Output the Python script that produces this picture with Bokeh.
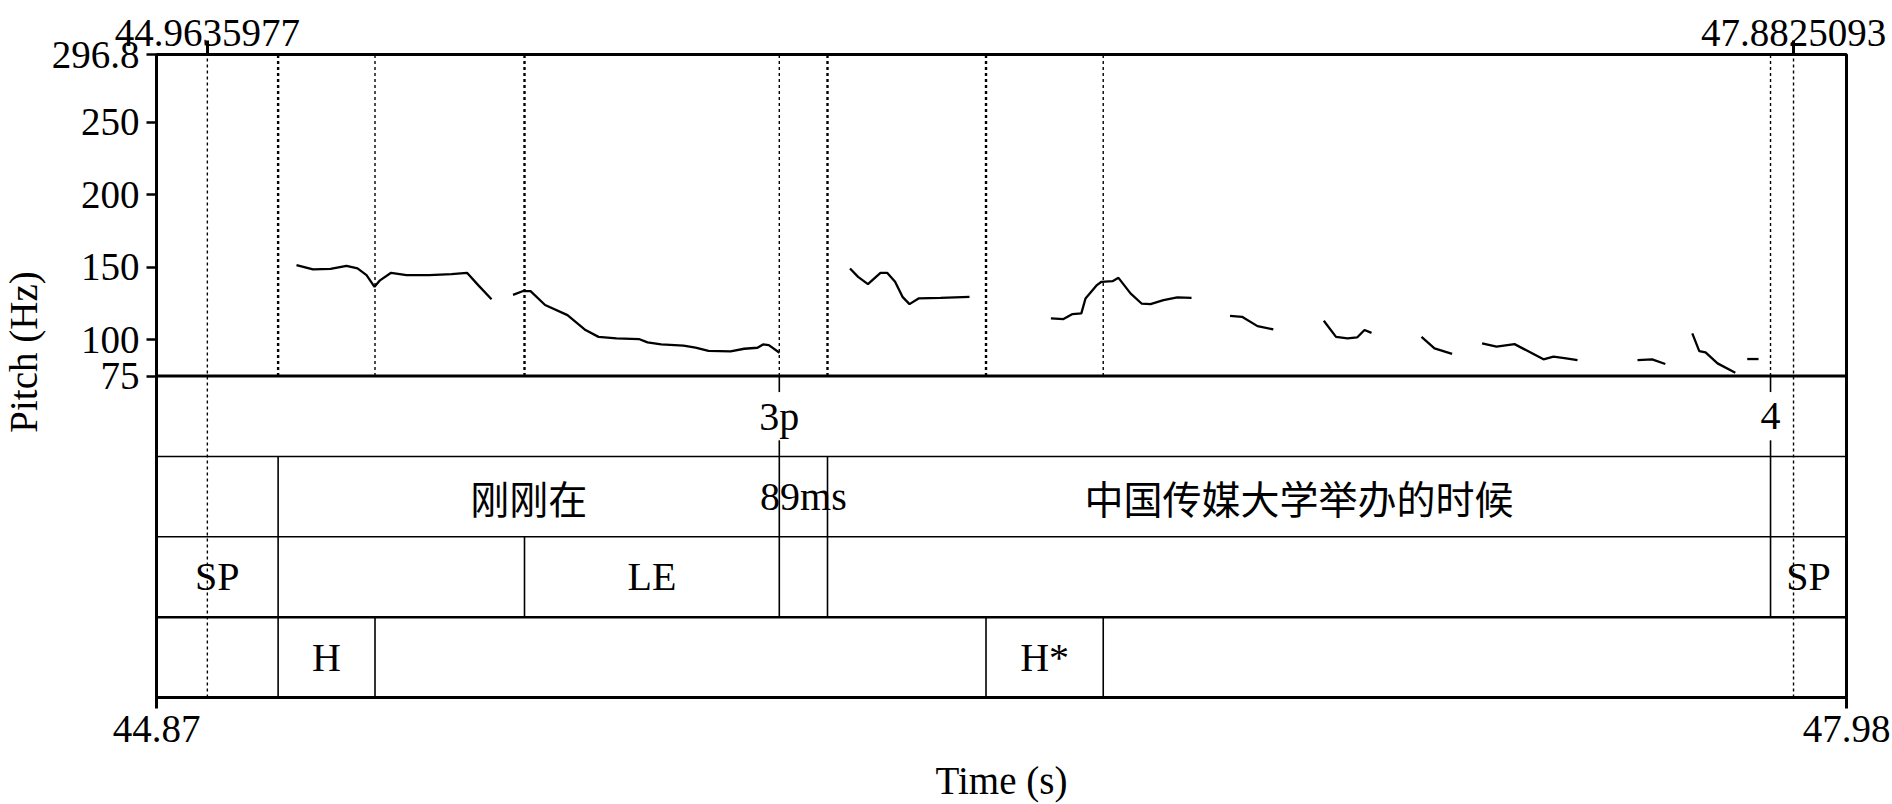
import math
from bokeh.plotting import figure
from bokeh.layouts import row
from bokeh.models import Range1d, LinearAxis, FixedTicker
from bokeh.core.properties import value
from bokeh.embed import file_html
from bokeh.resources import INLINE

# ---------------- data ----------------
t_start, t_end = 44.87, 47.98
f_min, f_max = 75.0, 296.8
y_ticks = [75.0, 100.0, 150.0, 200.0, 250.0, 296.8]
y_tick_labels = ["75", "100", "150", "200", "250", "296.8"]
x_ticks = [44.87, 47.98]
x_tick_labels = ["44.87", "47.98"]
marks = [44.9635977, 47.8825093]
mark_labels = ["44.9635977", "47.8825093"]
y_title = "Pitch (Hz)"
x_title = "Time (s)"

# pitch contour (voiced stretches)
seg_t = [
    [45.1276, 45.1580, 45.1902, 45.2197, 45.2399, 45.2565, 45.2712, 45.2813, 45.3017, 45.3301, 45.3717, 45.4129, 45.4414, 45.4620, 45.4865],
    [45.5261, 45.5435, 45.5583, 45.5851, 45.6263, 45.6595, 45.6834, 45.7165, 45.7577, 45.7736, 45.7988, 45.8398, 45.8619, 45.8858, 45.9263, 45.9516, 45.9760, 45.9861, 45.9968, 46.0165],
    [46.1462, 46.1611, 46.1792, 46.2023, 46.2145, 46.2292, 46.2428, 46.2557, 46.2723, 46.3128, 46.3661],
    [46.5159, 46.5391, 46.5557, 46.5719, 46.5796, 46.6006, 46.6090, 46.6293, 46.6403, 46.6624, 46.6827, 46.6992, 46.7231, 46.7485, 46.7747],
    [46.8455, 46.8676, 46.8961, 46.9252],
    [47.0181, 47.0406, 47.0618, 47.0794, 47.0930, 47.1059],
    [47.1979, 47.2218, 47.2542],
    [47.3094, 47.3360, 47.3691, 47.3961, 47.4224, 47.4408, 47.4640, 47.4850],
    [47.5954, 47.6223, 47.6466],
    [47.6962, 47.7091, 47.7206, 47.7427, 47.7754],
    [47.7973, 47.8181],
]
seg_hz = [
    [151.5, 148.5, 148.9, 151.0, 149.2, 144.6, 136.5, 141.0, 146.2, 144.6, 144.6, 145.3, 146.2, 137.7, 128.0],
    [131.0, 133.5, 133.5, 124.0, 117.0, 106.7, 102.0, 101.0, 100.5, 98.2, 96.8, 95.9, 94.5, 92.4, 92.0, 93.8, 94.5, 96.8, 96.3, 91.0],
    [149.2, 143.4, 138.4, 146.2, 146.2, 140.0, 129.6, 124.6, 128.5, 128.9, 129.6],
    [114.7, 114.3, 117.7, 118.2, 128.5, 137.7, 140.0, 140.4, 142.7, 132.0, 125.0, 124.6, 127.3, 129.2, 128.9],
    [116.5, 115.8, 109.4, 107.1],
    [113.1, 102.0, 101.0, 101.6, 106.7, 104.8],
    [102.0, 94.0, 90.2],
    [97.5, 95.2, 97.0, 91.7, 86.5, 88.3, 87.2, 86.0],
    [86.0, 86.5, 83.3],
    [104.4, 92.2, 91.3, 83.7, 77.3],
    [86.7, 86.7],
]

# TextGrid tiers
tier1_times = [46.0161, 47.8402]
tier1_labels = ["3p", "4"]
tier2_bounds = [44.87, 45.0938, 46.0161, 46.1048, 47.8402, 47.98]
tier2_labels = ["", "刚刚在", "89ms", "中国传媒大学举办的时候", ""]
tier3_bounds = [44.87, 45.0938, 45.5472, 46.0161, 46.1048, 47.8402, 47.98]
tier3_labels = ["SP", "", "LE", "", "", "SP"]
tier4_bounds = [44.87, 45.0938, 45.2721, 46.3965, 46.6122, 47.98]
tier4_labels = ["", "H", "", "H*", ""]

# ---------------- styles ----------------
SERIF = "Liberation Serif"
CJK = "Noto Sans CJK SC"
FS = "40px"
AXFS = "39px"
heavy_dots = [45.0938, 45.5472, 46.1048, 46.3965]
W, H = 1892, 804
TITLE_W = 46

span = f_max - f_min

# narrow strip holding the rotated y title
ft = figure(width=TITLE_W, height=H, output_backend="svg", toolbar_location=None,
            x_range=Range1d(0, TITLE_W), y_range=Range1d(0, H),
            x_axis_type=None, y_axis_type=None, min_border=0)
ft.outline_line_color = None
ft.xgrid.visible = False
ft.ygrid.visible = False
ft.text(x=[TITLE_W / 2], y=[H - 372], text=[y_title], angle=math.pi / 2,
        text_font=value(SERIF), text_font_size="39px", text_align="center",
        text_baseline="middle", text_color="black")

p = figure(width=W - TITLE_W, height=H, output_backend="svg", toolbar_location=None,
           x_range=Range1d(t_start, t_end), y_range=Range1d(f_min - span, f_max),
           min_border_left=156 - TITLE_W, min_border_right=46, min_border_top=54,
           min_border_bottom=106)
p.extra_y_ranges = {"tier": Range1d(-4, 4)}
p.xgrid.visible = False
p.ygrid.visible = False
p.outline_line_color = "black"
p.outline_line_width = 3
p.background_fill_color = "white"
p.border_fill_color = "white"

# left axis
ya = p.yaxis[0]
ya.ticker = FixedTicker(ticks=y_ticks)
ya.major_label_overrides = dict(zip(y_ticks, y_tick_labels))
ya.axis_line_width = 3
ya.major_tick_out = 10
ya.major_tick_in = 0
ya.major_tick_line_width = 2.5
ya.minor_tick_line_color = None
ya.major_label_text_font = SERIF
ya.major_label_text_font_size = AXFS
ya.major_label_text_color = "black"
ya.major_label_standoff = 7

# bottom axis
xa = p.xaxis[0]
xa.ticker = FixedTicker(ticks=x_ticks)
xa.major_label_overrides = dict(zip(x_ticks, x_tick_labels))
xa.axis_line_width = 3
xa.major_tick_out = 11
xa.major_tick_in = 0
xa.major_tick_line_width = 3
xa.minor_tick_line_color = None
xa.major_label_text_font = SERIF
xa.major_label_text_font_size = AXFS
xa.major_label_text_color = "black"
xa.major_label_standoff = 7
xa.axis_label = x_title
xa.axis_label_text_font = SERIF
xa.axis_label_text_font_size = AXFS
xa.axis_label_text_font_style = "normal"
xa.axis_label_text_color = "black"
xa.axis_label_standoff = 14

# top marks
ta = LinearAxis(ticker=FixedTicker(ticks=marks), axis_line_color=None,
                major_tick_out=14, major_tick_in=0, major_tick_line_width=3,
                minor_tick_line_color=None, major_label_text_font=SERIF,
                major_label_text_font_size=AXFS, major_label_text_color="black",
                major_label_standoff=-5,
                major_label_overrides=dict(zip(marks, mark_labels)))
p.add_layout(ta, "above")

# dotted boundary lines in pitch area
bounds = sorted(set(tier2_bounds[1:-1] + tier3_bounds[1:-1] + tier4_bounds[1:-1] + tier1_times))
for b in bounds:
    w = 2.4 if b in heavy_dots else 1.4
    p.segment(x0=[b], x1=[b], y0=[f_min], y1=[f_max], line_color="black",
              line_width=w, line_dash="3 3")
# mark dotted lines through whole frame
p.segment(x0=marks, x1=marks, y0=[f_min - span] * 2, y1=[f_max] * 2, line_color="black",
          line_width=1.4, line_dash="3 3")

# pitch contour
p.multi_line(xs=seg_t, ys=seg_hz, line_color="black", line_width=2.3)

# tier separators
sep_y = [0, -1, -2, -3]
sep_w = [3, 1.5, 1.5, 2.5]
for y, w in zip(sep_y, sep_w):
    p.segment(x0=[t_start], x1=[t_end], y0=[y], y1=[y], y_range_name="tier",
              line_color="black", line_width=w)


def is_cjk(s):
    return any(ord(c) > 0x2E80 for c in s)


def put_text(xs, ys, texts):
    lat = [(x, y, t) for x, y, t in zip(xs, ys, texts) if t and not is_cjk(t)]
    cjk = [(x, y, t) for x, y, t in zip(xs, ys, texts) if t and is_cjk(t)]
    for group, font, fs in ((lat, SERIF, FS), (cjk, CJK, "39px")):
        if group:
            p.text(x=[g[0] for g in group], y=[g[1] for g in group], text=[g[2] for g in group],
                   y_range_name="tier", text_font=value(font), text_font_size=fs,
                   text_align="center", text_baseline="middle", text_color="black")


# interval tiers
for k, (bnds, labs) in enumerate([(tier2_bounds, tier2_labels), (tier3_bounds, tier3_labels),
                                  (tier4_bounds, tier4_labels)], start=2):
    inner = bnds[1:-1]
    p.segment(x0=inner, x1=inner, y0=[-(k - 1)] * len(inner), y1=[-k] * len(inner),
              y_range_name="tier", line_color="black", line_width=1.6)
    mids = [(a + b) / 2 for a, b in zip(bnds[:-1], bnds[1:])]
    put_text(mids, [-(k - 0.5)] * len(mids), labs)

# point tier
n = len(tier1_times)
p.segment(x0=tier1_times, x1=tier1_times, y0=[0] * n, y1=[-0.2] * n, y_range_name="tier",
          line_color="black", line_width=1.6)
p.segment(x0=tier1_times, x1=tier1_times, y0=[-0.8] * n, y1=[-1] * n, y_range_name="tier",
          line_color="black", line_width=1.6)
put_text(tier1_times, [-0.5] * n, tier1_labels)

layout = row(ft, p, spacing=0)
open("out.html", "w").write(file_html(layout, INLINE))
